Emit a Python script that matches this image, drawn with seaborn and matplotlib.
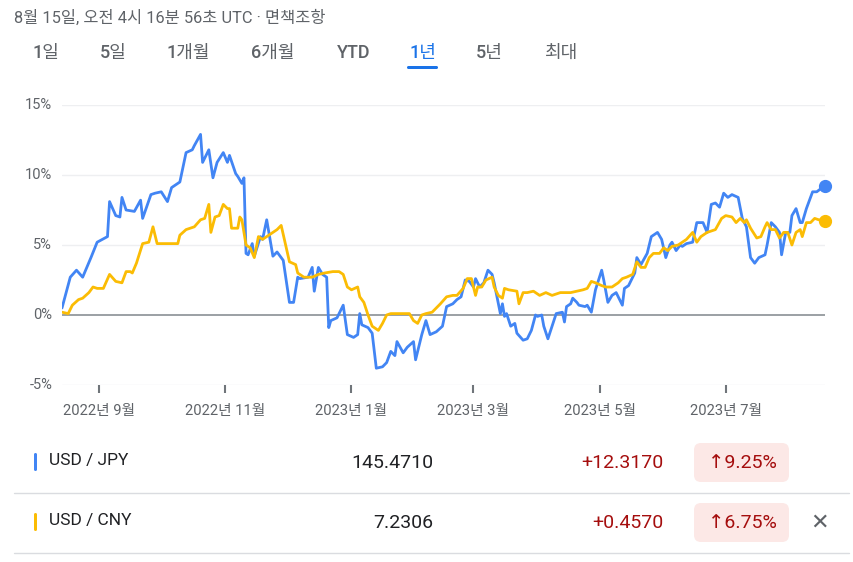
import numpy as np
import pandas as pd
import matplotlib
matplotlib.use("Agg")
import matplotlib.pyplot as plt
import matplotlib.dates as mdates
from matplotlib.patches import FancyBboxPatch, Rectangle
import seaborn as sns

# ---------------- data ----------------
start_date = "2022-08-14"
jpy_days = [0, 4, 7, 10, 12, 14, 17, 22, 23, 26, 28, 29, 31, 35, 38, 39, 43, 45, 48, 51, 53, 57, 60, 63, 64, 67,
            68, 71, 73, 75, 78, 80, 81, 84, 85, 87, 88, 89, 90, 92, 93, 96, 97, 99, 102, 104, 107, 110, 112, 114,
            115, 119, 121, 122, 124, 126, 128, 129, 130, 133, 136, 138, 141, 143, 144, 145, 148, 150, 152, 155,
            157, 159, 161, 162, 165, 167, 170, 171, 174, 176, 178, 181, 184, 186, 189, 191, 193, 195, 197, 199,
            200, 202, 204, 206, 208, 209, 212, 213, 214, 215, 217, 219, 220, 223, 225, 227, 229, 230, 232, 233,
            235, 237, 239, 242, 243, 244, 246, 247, 249, 250, 253, 254, 256, 258, 261, 262, 264, 266, 268, 271,
            272, 274, 277, 278, 280, 283, 285, 288, 290, 292, 294, 295, 297, 299, 300, 302, 305, 307, 310, 312,
            314, 316, 318, 320, 322, 324, 327, 329, 331, 333, 335, 337, 340, 341, 343, 345, 347, 348, 350, 352,
            353, 355, 357, 358, 360, 363, 365, 369]
jpy_pct = [0.5, 2.7, 3.2, 2.7, 3.4, 4.1, 5.2, 5.6, 8.1, 7.1, 7.0, 8.4, 7.5, 7.4, 8.2, 6.9, 8.6, 8.7, 8.8, 8.1, 9.1,
           9.5, 11.6, 11.8, 12.1, 12.9, 10.9, 11.8, 9.8, 10.9, 11.6, 10.9, 11.4, 10.1, 9.9, 9.4, 9.8, 4.4, 4.3,
           5.1, 4.2, 5.6, 5.4, 6.8, 4.2, 4.5, 3.9, 0.9, 0.9, 2.7, 2.6, 2.7, 3.4, 1.7, 3.4, 2.9, 2.7, -0.9, -0.4,
           -0.2, 0.7, -1.4, -1.6, -1.4, 0.1, -0.7, -0.9, -1.3, -3.8, -3.7, -3.4, -2.6, -2.9, -1.9, -2.7, -2.3,
           -1.9, -3.2, -1.4, -0.4, -1.4, -1.2, -0.8, 0.6, 0.8, 1.1, 1.3, 2.5, 2.4, 2.0, 2.6, 2.0, 2.3, 3.2, 2.9,
           2.3, 0.1, 0.8, -0.1, 0.1, -0.8, -0.6, -1.3, -1.8, -1.7, -1.1, 0.0, -0.1, 0.0, -0.8, -1.7, -0.8, 0.1,
           0.2, -0.5, 0.6, 0.8, 1.2, 0.9, 0.7, 0.6, 0.7, 0.2, 1.8, 3.2, 2.5, 0.9, 1.4, 1.6, 0.7, 1.9, 2.1, 3.0,
           4.1, 3.6, 4.4, 5.6, 5.9, 5.4, 4.1, 5.0, 5.2, 4.6, 5.0, 4.9, 5.1, 5.2, 6.6, 6.6, 5.9, 7.9, 8.0, 7.7,
           8.7, 8.4, 8.6, 8.4, 6.9, 6.3, 4.1, 3.7, 4.1, 4.3, 5.0, 6.6, 6.3, 5.9, 4.3, 5.9, 5.9, 7.1, 7.6, 6.6,
           6.6, 7.6, 8.8, 8.8, 9.25]

cny_days = [0, 3, 5, 8, 10, 13, 15, 17, 20, 23, 26, 29, 31, 33, 34, 36, 39, 42, 44, 46, 50, 56, 57, 60, 64, 67,
            69, 71, 72, 74, 76, 78, 80, 81, 82, 85, 86, 87, 89, 91, 93, 95, 97, 98, 100, 102, 104, 106, 108, 110,
            113, 114, 117, 121, 124, 127, 131, 134, 136, 138, 140, 143, 144, 146, 148, 150, 153, 155, 157, 159,
            163, 168, 170, 172, 174, 176, 179, 181, 183, 186, 189, 191, 194, 196, 198, 200, 201, 203, 205, 208,
            209, 211, 213, 214, 216, 220, 221, 223, 225, 228, 231, 234, 237, 241, 244, 246, 249, 252, 254, 256,
            258, 261, 263, 266, 269, 271, 273, 276, 278, 280, 282, 284, 286, 289, 291, 293, 295, 298, 300, 302,
            305, 307, 309, 312, 316, 319, 321, 324, 326, 328, 330, 331, 333, 336, 338, 340, 341, 343, 345, 347,
            349, 351, 353, 355, 357, 358, 360, 362, 364, 366, 369]
cny_pct = [0.2, 0.1, 0.7, 1.1, 1.2, 1.6, 2.0, 1.9, 1.9, 2.9, 2.4, 2.3, 3.1, 3.1, 3.0, 3.7, 5.1, 5.2, 6.3, 5.1, 5.1,
           5.1, 5.7, 6.1, 6.3, 6.8, 6.9, 7.9, 5.9, 7.0, 7.1, 7.9, 7.6, 7.6, 6.2, 6.2, 7.0, 6.8, 5.0, 4.8, 4.1,
           5.6, 5.4, 5.5, 5.7, 5.9, 6.1, 6.4, 5.1, 3.8, 3.6, 3.0, 2.7, 2.7, 2.9, 3.0, 3.1, 3.1, 2.9, 2.0, 1.8,
           2.0, 1.3, 0.9, 0.0, -0.8, -1.1, -0.6, 0.0, 0.1, 0.1, 0.1, -0.4, -0.6, 0.0, 0.1, 0.2, 0.5, 0.8, 1.3,
           1.4, 1.4, 1.9, 2.6, 2.6, 1.4, 2.0, 2.0, 2.5, 2.7, 2.0, 1.4, 1.2, 1.9, 1.8, 1.7, 0.8, 1.6, 1.6, 1.7,
           1.4, 1.6, 1.4, 1.6, 1.6, 1.6, 1.7, 1.8, 1.9, 2.4, 2.3, 2.1, 2.0, 2.0, 2.3, 2.6, 2.7, 2.9, 3.8, 3.4,
           3.4, 4.1, 4.4, 4.4, 4.8, 4.6, 4.9, 5.0, 5.2, 5.4, 5.9, 5.2, 5.6, 5.9, 6.1, 6.9, 7.1, 7.0, 6.6, 6.9,
           6.6, 6.8, 6.2, 5.5, 5.6, 6.3, 6.6, 6.1, 6.1, 5.5, 5.9, 5.9, 5.0, 5.9, 6.1, 5.6, 6.6, 6.6, 6.9, 6.8,
           6.75]

pairs = ["USD / JPY", "USD / CNY"]
prices = ["145.4710", "7.2306"]
changes = ["+12.3170", "+0.4570"]
pct_changes = ["9.25%", "6.75%"]
tick_dates = ["2022-09-01", "2022-11-01", "2023-01-01", "2023-03-01", "2023-05-01", "2023-07-01"]
tick_labels = ["2022년 9월", "2022년 11월", "2023년 1월", "2023년 3월", "2023년 5월", "2023년 7월"]
y_ticks = [-5, 0, 5, 10, 15]
tabs = ["1일", "5일", "1개월", "6개월", "YTD", "1년", "5년", "최대"]
header = "8월 15일, 오전 4시 16분 56초 UTC · 면책조항"

# ---------------- style ----------------
sns.set_style("white")
plt.rcParams["font.family"] = ["Roboto", "Noto Sans CJK KR", "DejaVu Sans"]

BLUE = "#4285f4"
YELLOW = "#fbbc04"
GRAY = "#5f6368"
colors = {pairs[0]: BLUE, pairs[1]: YELLOW}

t0 = pd.Timestamp(start_date)
df = pd.concat([
    pd.DataFrame({"date": t0 + pd.to_timedelta(jpy_days, unit="D"), "pct": jpy_pct, "pair": pairs[0]}),
    pd.DataFrame({"date": t0 + pd.to_timedelta(cny_days, unit="D"), "pct": cny_pct, "pair": pairs[1]}),
], ignore_index=True)

W, H = 854, 562
fig = plt.figure(figsize=(W / 100, H / 100), dpi=100)
fig.patch.set_facecolor("white")

# overlay in pixel coordinates
ov = fig.add_axes([0, 0, 1, 1], zorder=0)
ov.set_xlim(0, W)
ov.set_ylim(H, 0)
ov.axis("off")

# chart axes
x0, x1, ytop, ybot = 62, 825, 105, 385
ax = fig.add_axes([x0 / W, 1 - ybot / H, (x1 - x0) / W, (ybot - ytop) / H], zorder=2)
ax.set_facecolor("none")
sns.lineplot(data=df, x="date", y="pct", hue="pair", palette=colors, linewidth=2.0,
             legend=False, ax=ax, estimator=None, sort=False)
for p in pairs:
    sub = df[df["pair"] == p]
    ax.plot(sub["date"].iloc[-1], sub["pct"].iloc[-1], "o", color=colors[p], markersize=8.5,
            clip_on=False, zorder=5)

ax.set_xlim(t0, t0 + pd.Timedelta(days=369))
ax.set_ylim(-5, 15)
for s in ax.spines.values():
    s.set_visible(False)
for v in y_ticks:
    if v == 0:
        ax.axhline(0, color="#80868b", linewidth=1.1, zorder=1)
    else:
        ax.axhline(v, color="#eeeff1", linewidth=1, zorder=0)
ax.set_yticks(y_ticks)
ax.set_yticklabels([f"{v}%" for v in y_ticks])
ax.tick_params(axis="y", left=False, length=0, pad=7, labelsize=10.5, labelcolor=GRAY)
for lbl in ax.get_yticklabels():
    lbl.set_verticalalignment("center")
ax.set_xticks(pd.to_datetime(tick_dates))
ax.set_xticklabels(tick_labels)
ax.tick_params(axis="x", bottom=True, direction="out", length=5.5, width=1.5, color="#70757a",
               pad=8, labelsize=10.6, labelcolor=GRAY)
ax.set_xlabel("")
ax.set_ylabel("")

# header
ov.text(14, 18, header, fontsize=11.8, color=GRAY, va="center", ha="left")
tab_x = [33, 100, 167, 251, 337, 410, 476, 544]
for tx, t in zip(tab_x, tabs):
    c = "#1a73e8" if t == "1년" else GRAY
    ov.text(tx, 53, t, fontsize=13, color=c, va="center", ha="left", weight="medium")
ov.add_patch(FancyBboxPatch((407, 66), 31, 3, boxstyle="round,pad=0,rounding_size=1.5",
                            facecolor="#1a73e8", edgecolor="none"))

# table
row_y = [462, 522]
for i, ry in enumerate(row_y):
    ov.add_patch(FancyBboxPatch((34, ry - 9), 3, 18, boxstyle="round,pad=0,rounding_size=1.5",
                                facecolor=colors[pairs[i]], edgecolor="none"))
    ov.text(49, ry - 1, pairs[i], fontsize=12.5, color="#202124", va="center", ha="left")
    ov.text(433, ry + 1, prices[i], fontsize=14, color="#202124", va="center", ha="right")
    ov.text(664, ry + 1, changes[i], fontsize=14, color="#a50e0e", va="center", ha="right")
    ov.add_patch(FancyBboxPatch((694, ry - 19), 95, 39, boxstyle="round,pad=0,rounding_size=7",
                                facecolor="#fce8e6", edgecolor="none"))
    ov.text(742, ry + 1, "↑" + pct_changes[i], fontsize=14, color="#a50e0e", va="center", ha="center",
            family=["Roboto", "DejaVu Sans"])
ov.plot([14, 849], [493, 493], color="#dadce0", linewidth=1)
ov.plot([14, 849], [553, 553], color="#dadce0", linewidth=1)
ov.text(820, 523, "✕", fontsize=16, color=GRAY, va="center", ha="center", family=["DejaVu Sans"])

fig.savefig("out.png", dpi=100, facecolor="white")
